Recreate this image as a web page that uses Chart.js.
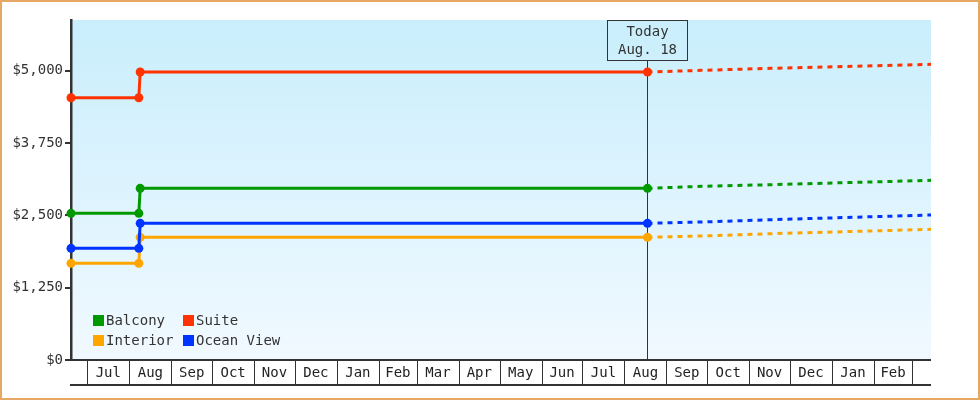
<!DOCTYPE html>
<html>
<head>
<meta charset="utf-8">
<script src="https://cdn.jsdelivr.net/npm/chart.js@4/dist/chart.umd.min.js"></script>
<style>
  html, body { margin: 0; padding: 0; background: #fff; }
  #wrap { width: 980px; height: 400px; position: relative; }
</style>
</head>
<body>
<div id="wrap"><canvas id="price-chart"></canvas></div>
<script>
// observation dates (first point is the left edge of the axis, last is the right edge)
var dates = ['2017-06-19', '2017-08-08', '2017-08-09', '2018-08-18', '2018-09-27', '2018-11-17', '2019-03-15'];
var today = '2018-08-18';
var todayLabel = ['Today', 'Aug. 18'];

var seriesNames = ['Balcony', 'Interior', 'Suite', 'Ocean View'];
var balcony = [2535, 2535, 2967, 2967, 3002, 3030, 3105];
var interior = [1671, 1671, 2120, 2120, 2143, 2183, 2258];
var suite = [4533, 4533, 4977, 4977, 5006, 5041, 5110];
var oceanView = [1930, 1930, 2362, 2362, 2385, 2425, 2506];

var yTicks = [0, 1250, 2500, 3750, 5000];
var yMax = 5876;

// month cells along the bottom
var monthStarts = ['2017-07-01', '2017-08-01', '2017-09-01', '2017-10-01', '2017-11-01', '2017-12-01',
    '2018-01-01', '2018-02-01', '2018-03-01', '2018-04-01', '2018-05-01', '2018-06-01', '2018-07-01',
    '2018-08-01', '2018-09-01', '2018-10-01', '2018-11-01', '2018-12-01', '2019-01-01', '2019-02-01', '2019-03-01'];
var monthNames = ['Jul', 'Aug', 'Sep', 'Oct', 'Nov', 'Dec', 'Jan', 'Feb', 'Mar', 'Apr', 'May', 'Jun',
    'Jul', 'Aug', 'Sep', 'Oct', 'Nov', 'Dec', 'Jan', 'Feb'];

var colours = {
    'Balcony': '#009900',
    'Interior': '#ffa500',
    'Suite': '#ff3300',
    'Ocean View': '#0033ff'
};
// lower order is drawn on top
var drawOrder = {'Balcony': 1, 'Interior': 3, 'Suite': 0, 'Ocean View': 2};

var FONT = '"DejaVu Sans Mono", "Liberation Mono", monospace';
var INK = '#333333';

function dayNum(s) {
    var p = s.split('-');
    return Date.UTC(+p[0], +p[1] - 1, +p[2]) / 86400000;
}

var todayX = dayNum(today);

function makeDataset(name, values) {
    var colour = colours[name];
    return {
        label: name,
        data: dates.map(function (d, i) { return {x: dayNum(d), y: values[i]}; }),
        borderColor: colour,
        backgroundColor: colour,
        borderWidth: 3,
        clip: false,
        order: drawOrder[name],
        pointRadius: function (ctx) { return ctx.raw && ctx.raw.x > todayX ? 0 : 4.5; },
        pointHoverRadius: 0,
        pointBorderWidth: 0,
        tension: 0,
        segment: {
            borderDash: function (ctx) { return ctx.p0.parsed.x >= todayX ? [5, 5] : undefined; }
        }
    };
}

var seriesValues = [balcony, interior, suite, oceanView];

var backdrop = {
    id: 'backdrop',
    beforeDraw: function (chart) {
        var c = chart.ctx, a = chart.chartArea;
        c.save();
        c.fillStyle = '#ffffff';
        c.fillRect(0, 0, chart.width, chart.height);
        var g = c.createLinearGradient(0, a.top, 0, a.bottom);
        g.addColorStop(0, '#c9eefc');
        g.addColorStop(1, '#f1f9ff');
        c.fillStyle = g;
        c.fillRect(a.left, a.top, a.right - a.left, a.bottom - a.top);
        c.restore();
    },
    beforeDatasetsDraw: function (chart) {
        // today marker line
        var c = chart.ctx, a = chart.chartArea;
        var x = Math.round(chart.scales.x.getPixelForValue(todayX)) + 0.5;
        c.save();
        c.strokeStyle = INK;
        c.lineWidth = 1;
        c.beginPath();
        c.moveTo(x, a.top + 40);
        c.lineTo(x, a.bottom);
        c.stroke();
        c.restore();
    },
    afterDraw: function (chart) {
        var c = chart.ctx, a = chart.chartArea, xs = chart.scales.x;
        c.save();

        // month strip under the plot
        c.strokeStyle = INK;
        c.lineWidth = 2;
        c.beginPath();
        c.moveTo(a.left - 1, a.bottom);
        c.lineTo(a.right, a.bottom);
        c.moveTo(a.left - 1, a.bottom + 25);
        c.lineTo(a.right, a.bottom + 25);
        c.stroke();
        c.lineWidth = 1;
        c.beginPath();
        monthStarts.forEach(function (m) {
            var px = Math.round(xs.getPixelForValue(dayNum(m))) + 0.5;
            c.moveTo(px, a.bottom);
            c.lineTo(px, a.bottom + 25);
        });
        c.stroke();
        c.fillStyle = '#222';
        c.font = '14px ' + FONT;
        c.textAlign = 'center';
        c.textBaseline = 'middle';
        monthNames.forEach(function (n, i) {
            var x0 = xs.getPixelForValue(dayNum(monthStarts[i]));
            var x1 = xs.getPixelForValue(dayNum(monthStarts[i + 1]));
            c.fillText(n, (x0 + x1) / 2, a.bottom + 13);
        });

        // today box
        var tx = Math.round(xs.getPixelForValue(todayX)) + 0.5;
        c.strokeStyle = INK;
        c.lineWidth = 1;
        c.strokeRect(tx - 40, a.top + 0.5, 80, 40);
        c.fillStyle = '#333';
        c.fillText(todayLabel[0], tx, a.top + 12);
        c.fillText(todayLabel[1], tx, a.top + 30);

        // legend, two columns inside the plot
        c.textAlign = 'left';
        seriesNames.forEach(function (n, i) {
            var col = Math.floor(i / 2), row = i % 2;
            var lx = a.left + 22 + col * 90, ly = a.top + 295 + row * 20;
            c.fillStyle = colours[n];
            c.fillRect(lx, ly, 11, 11);
            c.fillStyle = '#333';
            c.fillText(n, lx + 13, ly + 6);
        });

        // outer frame
        c.strokeStyle = '#e8a865';
        c.lineWidth = 2;
        c.strokeRect(1, 1, chart.width - 2, chart.height - 2);
        c.restore();
    }
};

var el = document.getElementById('price-chart');
var config = {
    type: 'line',
    data: {
        datasets: seriesNames.map(function (n, i) { return makeDataset(n, seriesValues[i]); })
    },
    options: {
        responsive: true,
        maintainAspectRatio: false,
        animation: false,
        layout: {
            padding: {left: 0, right: 49, top: 20, bottom: 40}
        },
        plugins: {
            legend: {display: false},
            tooltip: {enabled: false}
        },
        scales: {
            x: {
                type: 'linear',
                display: false,
                min: dayNum(dates[0]),
                max: dayNum(dates[dates.length - 1])
            },
            y: {
                min: 0,
                max: yMax,
                afterFit: function (scale) { scale.width = 71; },
                afterBuildTicks: function (scale) {
                    scale.ticks = yTicks.map(function (v) { return {value: v}; });
                },
                border: {display: true, color: INK, width: 2.5},
                grid: {
                    drawOnChartArea: false,
                    drawTicks: true,
                    tickLength: 6,
                    color: INK,
                    lineWidth: 2
                },
                ticks: {
                    padding: 2,
                    color: '#333',
                    font: {family: FONT, size: 14},
                    callback: function (v) { return '$' + v.toLocaleString('en-US'); }
                }
            }
        }
    },
    plugins: [backdrop]
};
var priceChart = new Chart(el, config);
</script>
</body>
</html>
